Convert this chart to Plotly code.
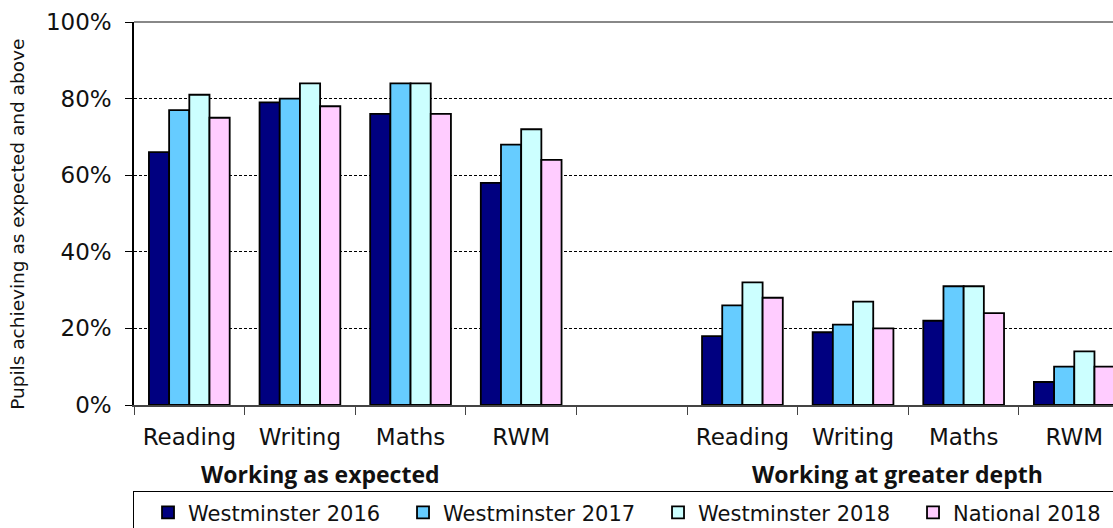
import plotly.graph_objects as go

categories = ["Reading", "Writing", "Maths", "RWM", "", "Reading ", "Writing ", "Maths ", "RWM "]
tick_text = ["Reading", "Writing", "Maths", "RWM", "", "Reading", "Writing", "Maths", "RWM"]
series_names = ["Westminster 2016", "Westminster 2017", "Westminster 2018", "National 2018"]
west_2016 = [66, 79, 76, 58, None, 18, 19, 22, 6]
west_2017 = [77, 80, 84, 68, None, 26, 21, 31, 10]
west_2018 = [81, 84, 84, 72, None, 32, 27, 31, 14]
national_2018 = [75, 78, 76, 64, None, 28, 20, 24, 10]
colors = ["#000080", "#66CCFF", "#CCFFFF", "#FFCCFF"]
group_labels = ["Working as expected", "Working at greater depth"]
group_pos = [1.19, 6.4]
y_ticks = [0, 20, 40, 60, 80, 100]
y_title = "Pupils achieving as expected and above"

fig = go.Figure()
for name, vals, col in zip(series_names, [west_2016, west_2017, west_2018, national_2018], colors):
    fig.add_trace(go.Bar(
        x=categories, y=vals, name=name,
        marker=dict(color=col, line=dict(color="black", width=1.8)),
    ))

fig.update_layout(
    width=1113, height=528,
    margin=dict(l=134, r=0, t=22, b=123, autoexpand=False),
    paper_bgcolor="white", plot_bgcolor="white",
    barmode="group", bargap=0.27, bargroupgap=0,
    font=dict(family="DejaVu Sans, Verdana, sans-serif", color="#111111"),
    showlegend=True,
    legend=dict(
        orientation="h", x=-0.001, y=-0.225, xanchor="left", yanchor="top",
        bordercolor="black", borderwidth=1, bgcolor="white",
        font=dict(family="DejaVu Sans, sans-serif", size=21, color="#111111"),
        itemwidth=30, tracegroupgap=0, entrywidth=196, entrywidthmode="pixels",
        indentation=14,
    ),
)
fig.update_xaxes(
    type="category", categoryorder="array", categoryarray=categories,
    tickmode="array", tickvals=categories, ticktext=tick_text,
    range=[-0.5, 8.35], automargin=False,
    tickson="boundaries", ticks="outside", ticklen=8, tickcolor="#444444",
    showline=True, linecolor="#444444", linewidth=1.5,
    tickfont=dict(size=23, family="DejaVu Sans, Verdana, sans-serif"),
    ticklabelstandoff=11,
    showgrid=False,
)
fig.update_yaxes(
    range=[0, 100], tickmode="array", tickvals=y_ticks,
    ticktext=[f"{v}%" for v in y_ticks], automargin=False,
    ticks="outside", ticklen=7, tickcolor="black",
    showline=True, linecolor="black", linewidth=1.5,
    showgrid=True, gridcolor="black", griddash="3px,2px", gridwidth=0.8,
    tickfont=dict(size=23), ticklabelstandoff=9,
    zeroline=False,
)
fig.add_shape(type="line", xref="paper", yref="paper", x0=0, x1=1, y0=1, y1=1,
              line=dict(color="#888888", width=2))
fig.add_annotation(text=y_title, textangle=-90, x=-0.1185, xref="paper", y=0.473, yref="paper",
                   showarrow=False, font=dict(size=18.5, color="#111111"),
                   xanchor="center", yanchor="middle")
for lab, pos in zip(group_labels, group_pos):
    fig.add_annotation(text=f"<b>{lab}</b>", x=pos, xref="x", y=-0.18, yref="paper",
                       showarrow=False, font=dict(size=23, family="Open Sans, sans-serif", color="#111111"),
                       xanchor="center", yanchor="middle")

fig.write_html("out.html", config={"displayModeBar": False},
               post_script="document.body.style.margin='0';")
